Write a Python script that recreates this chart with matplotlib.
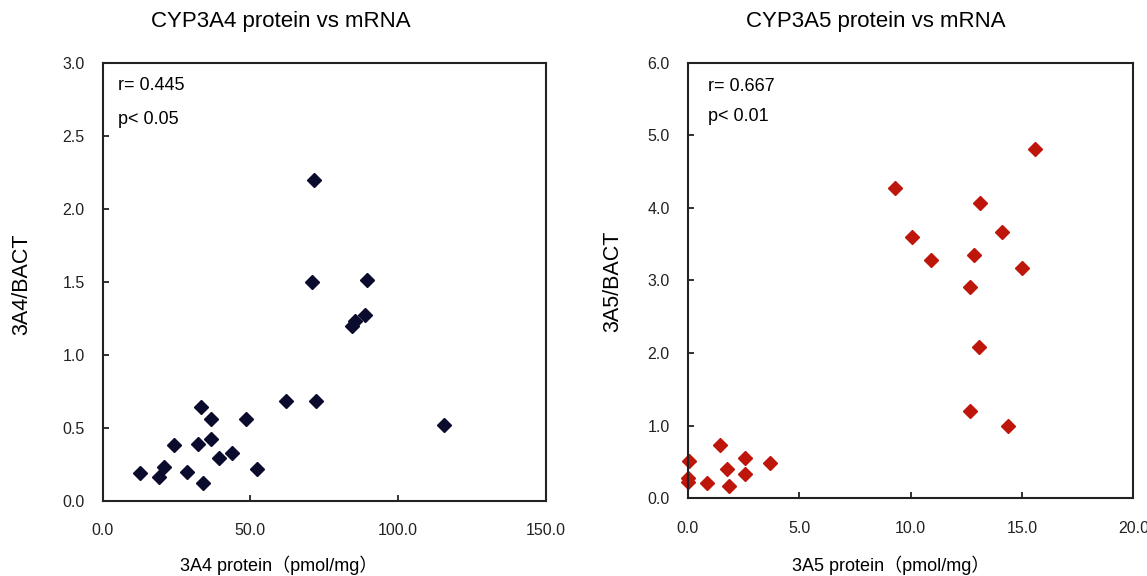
import numpy as np
import matplotlib.pyplot as plt

plt.rcParams['font.family'] = ['Liberation Sans', 'Noto Sans CJK JP', 'DejaVu Sans']

# CYP3A4: protein (pmol/mg) vs mRNA (3A4/BACT)
a4_protein = [12.6, 19.0, 20.8, 24.1, 28.5, 32.1, 33.4, 33.9, 36.7, 36.7, 39.3, 43.7,
              48.4, 52.3, 61.9, 71.5, 71.0, 72.2, 84.3, 85.5, 88.7, 89.4, 115.6]
a4_mrna = [0.19, 0.16, 0.23, 0.38, 0.20, 0.39, 0.64, 0.12, 0.56, 0.42, 0.29, 0.33,
           0.56, 0.22, 0.68, 2.20, 1.50, 0.68, 1.20, 1.23, 1.27, 1.51, 0.52]

# CYP3A5: protein (pmol/mg) vs mRNA (3A5/BACT)
a5_protein = [9.30, 10.08, 10.92, 12.68, 12.86, 13.13, 13.07, 12.68, 14.09, 15.0, 14.39, 15.59,
              0.07, 0.0, 0.01, 0.85, 1.45, 1.75, 1.84, 2.57, 2.57, 3.68]
a5_mrna = [4.27, 3.60, 3.28, 2.91, 3.35, 4.07, 2.08, 1.20, 3.67, 3.17, 0.99, 4.81,
           0.51, 0.28, 0.22, 0.21, 0.74, 0.40, 0.17, 0.56, 0.33, 0.48]

fig = plt.figure(figsize=(11.47, 5.76), dpi=100)
ax1 = fig.add_axes([0.0895, 0.1307, 0.3865, 0.7604])
ax2 = fig.add_axes([0.5996, 0.1349, 0.3885, 0.7563])


def style(ax, xlim, xticks, ylim, yticks):
    ax.set_xlim(*xlim)
    ax.set_ylim(*ylim)
    ax.set_xticks(xticks)
    ax.set_yticks(yticks)
    ax.set_xticklabels(['%.1f' % t for t in xticks])
    ax.set_yticklabels(['%.1f' % t for t in yticks])
    for s in ax.spines.values():
        s.set_linewidth(1.5)
        s.set_color('#222222')
    ax.tick_params(direction='in', length=4, width=1.3, labelsize=11.5, colors='#222222')
    ax.tick_params(axis='x', pad=16)
    ax.tick_params(axis='y', pad=13)


style(ax1, (0, 150), [0, 50, 100, 150], (0, 3), np.arange(0, 3.01, 0.5))
style(ax2, (0, 20), [0, 5, 10, 15, 20], (0, 6), np.arange(0, 6.01, 1.0))

ax1.plot(a4_protein, a4_mrna, 'D', color='#0b0b2e', ms=7.5, mec='#0b0b2e')
ax2.plot(a5_protein, a5_mrna, 'D', color='#bf160c', ms=7.5, mec='#bf160c',
         clip_on=False)

ax1.text(0.035, 0.947, 'r= 0.445', transform=ax1.transAxes, fontsize=13, va='center')
ax1.text(0.035, 0.871, 'p< 0.05', transform=ax1.transAxes, fontsize=13, va='center')
ax2.text(0.046, 0.945, 'r= 0.667', transform=ax2.transAxes, fontsize=13, va='center')
ax2.text(0.046, 0.876, 'p< 0.01', transform=ax2.transAxes, fontsize=13, va='center')

ax1.set_xlabel('3A4 protein（pmol/mg）', fontsize=13, va='center')
ax2.set_xlabel('3A5 protein（pmol/mg）', fontsize=13, va='center')
ax1.xaxis.set_label_coords(0.398, -0.147)
ax2.xaxis.set_label_coords(0.456, -0.153)
ax1.set_ylabel('3A4/BACT', fontsize=15.5, va='center')
ax2.set_ylabel('3A5/BACT', fontsize=15.5, va='center')
ax1.yaxis.set_label_coords(-0.182, 0.495)
ax2.yaxis.set_label_coords(-0.168, 0.497)

fig.text(281 / 1147, 1 - 22 / 576, 'CYP3A4 protein vs mRNA', ha='center', va='center', fontsize=16)
fig.text(876 / 1147, 1 - 22 / 576, 'CYP3A5 protein vs mRNA', ha='center', va='center', fontsize=16)

fig.savefig('out.png', dpi=100)
